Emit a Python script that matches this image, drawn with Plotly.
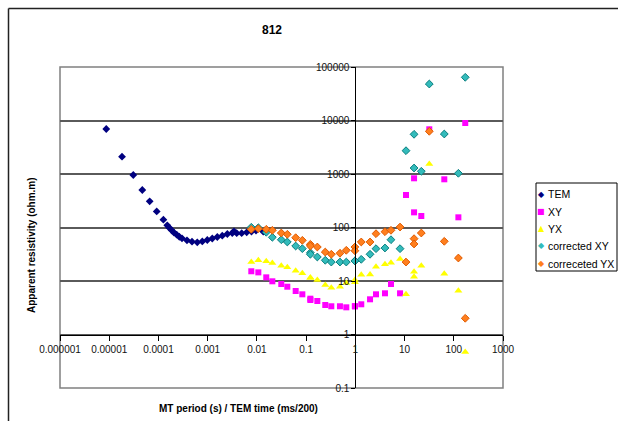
import plotly.graph_objects as go

# ---------------- data ----------------
tem_time = [8.7e-6, 1.82e-5, 3.08e-5, 4.70e-5, 6.64e-5, 9.22e-5, 1.26e-4, 1.51e-4, 1.66e-4,
            1.86e-4, 2.07e-4, 2.35e-4, 2.65e-4, 3.01e-4, 3.80e-4, 4.81e-4, 6.15e-4, 7.78e-4,
            9.83e-4, 1.24e-3, 1.57e-3, 1.98e-3, 2.51e-3, 3.16e-3, 3.43e-3, 3.89e-3, 4.91e-3,
            6.21e-3, 7.77e-3, 9.60e-3, 1.35e-2]
tem_rho = [6930, 2105, 958, 502, 309, 200, 140, 110, 99, 88.6, 80, 73.3, 67.2, 62.8, 57.6,
           54.3, 52.9, 54.9, 58.4, 62.3, 66.4, 70.3, 75.6, 78.9, 85, 78.4, 78.4, 81.3, 84.2,
           87.9, 83.5]

mt_period = [0.0077, 0.0107, 0.0155, 0.0206, 0.0313, 0.0415, 0.0614, 0.0838, 0.122, 0.122,
             0.169, 0.245, 0.325, 0.487, 0.655, 0.98, 0.98, 1.32, 1.99, 2.63, 4.0, 5.3, 8.1,
             10.7, 15.6, 15.6, 21.9, 31.8, 64.2, 124, 171]
xy_rho = [15.2, 14.5, 11.7, 9.87, 8.79, 7.82, 6.50, 5.64, 4.67, 4.41, 4.23, 3.56, 3.37, 3.37,
          3.22, 3.37, 3.37, 3.67, 4.55, 5.64, 5.89, 8.79, 5.89, 405, 831, 192, 164, 6850, 796,
          155, 8980]
yx_rho = [22.6, 24.4, 23.4, 21.7, 19.3, 18.0, 15.6, 13.9, 11.5, 11.5, 10.4, 8.42, 7.50, 7.82,
          9.18, 10.4, 9.46, 13.1, 13.2, 18.5, 20.5, 22.0, 25.8, 5.64, 14.9, 12.0, 19.3, 1538,
          13.7, 6.59, 0.47]
cxy_rho = [101, 99, 81.3, 65.6, 59.1, 53.6, 45.1, 40.2, 33.8, 31.6, 28.1, 24.4, 22.6, 22.6,
           22.6, 23.7, 23.7, 25.4, 31.6, 40.2, 41.4, 59.1, 40.2, 2727, 5520, 1294, 1123, 48100,
           5590, 1031, 64200]
cyx_rho = [92.5, 95, 92.5, 88.7, 78.9, 74.6, 64.5, 57.6, 48.5, 45.1, 43.2, 34.8, 31.6, 33.0,
           37.5, 43.2, 36.8, 53.6, 53.6, 76.6, 83.4, 88.7, 102, 22.6, 61.8, 49.2, 78.9, 6280,
           55.2, 26.9, 2.01]

series_names = ["TEM", "XY", "YX", "corrected XY", "correceted YX"]
series_colors = ["#000080", "#FF00FF", "#FFFF00", "#33BBBB", "#FF7F1E"]
series_glyphs = ["◆", "■", "▲", "◆", "◆"]

x_tick_vals = [1e-6, 1e-5, 1e-4, 1e-3, 1e-2, 1e-1, 1, 10, 100, 1000]
x_tick_text = ["0.000001", "0.00001", "0.0001", "0.001", "0.01", "0.1", "1", "10", "100", "1000"]
y_tick_vals = [0.1, 1, 10, 100, 1000, 10000, 100000]
y_tick_text = ["0.1", "1", "10", "100", "1000", "10000", "100000"]

FONT = "Arial, Liberation Sans, sans-serif"

fig = go.Figure()
fig.add_trace(go.Scatter(x=tem_time, y=tem_rho, mode="markers", name=series_names[0],
                         marker=dict(symbol="diamond", size=6, color=series_colors[0],
                                     line=dict(width=0))))
fig.add_trace(go.Scatter(x=mt_period, y=xy_rho, mode="markers", name=series_names[1],
                         marker=dict(symbol="square", size=6, color=series_colors[1],
                                     line=dict(width=0))))
fig.add_trace(go.Scatter(x=mt_period, y=yx_rho, mode="markers", name=series_names[2],
                         marker=dict(symbol="triangle-up", size=7, color=series_colors[2],
                                     line=dict(width=0))))
fig.add_trace(go.Scatter(x=mt_period, y=cxy_rho, mode="markers", name=series_names[3],
                         marker=dict(symbol="diamond", size=6, color=series_colors[3],
                                     line=dict(width=1, color="#0A7F7F"))))
fig.add_trace(go.Scatter(x=mt_period, y=cyx_rho, mode="markers", name=series_names[4],
                         marker=dict(symbol="diamond", size=6, color=series_colors[4],
                                     line=dict(width=1, color="#E05A00"))))

# page margin removed below, so figure pixels == page pixels
W, H = 618, 421
L, R, T, B = 60, 115, 67, 33
pw, ph = W - L - R, H - T - B


def px(page_x):
    return (page_x - L) / pw


def py(page_y):
    return (H - B - page_y) / ph


shapes = [
    dict(type="rect", xref="paper", yref="paper", x0=0, x1=1, y0=0, y1=1,
         line=dict(color="#808080", width=1.5), layer="below"),
    # outer chart-area border (left and top edges visible)
    dict(type="line", xref="paper", yref="paper", x0=px(8.5), x1=px(8.5),
         y0=py(425), y1=py(8.5), line=dict(color="#222", width=1.5)),
    dict(type="line", xref="paper", yref="paper", x0=px(8.5), x1=px(622),
         y0=py(8.5), y1=py(8.5), line=dict(color="#222", width=1.5)),
    # legend box
    dict(type="rect", xref="paper", yref="paper", x0=px(536), x1=px(617),
         y0=py(271), y1=py(183), line=dict(color="#000", width=1), fillcolor="white"),
]

annotations = [
    dict(text="<b>812</b>", xref="paper", yref="paper", x=px(272), y=py(30),
         xanchor="center", yanchor="middle",
         showarrow=False, font=dict(size=12, family=FONT)),
    dict(text="<b>MT period (s) / TEM time (ms/200)</b>", xref="paper", yref="paper",
         x=px(238), y=py(408), xanchor="center", yanchor="middle",
         showarrow=False, font=dict(size=10, family=FONT)),
    dict(text="<b>Apparent resistivity (ohm.m)</b>", xref="paper", yref="paper",
         x=px(31), y=py(245), xanchor="center", yanchor="middle",
         showarrow=False, textangle=-90, font=dict(size=10, family=FONT)),
]
legend_y = [194, 211.5, 228.5, 246, 263.5]
for name, col, glyph, ly in zip(series_names, series_colors, series_glyphs, legend_y):
    annotations.append(dict(text=glyph, xref="paper", yref="paper", x=px(541), y=py(ly),
                            xanchor="center", yanchor="middle", showarrow=False,
                            font=dict(size=8, family="DejaVu Sans", color=col)))
    annotations.append(dict(text=name, xref="paper", yref="paper", x=px(545.5), y=py(ly),
                            xanchor="left", yanchor="middle", showarrow=False,
                            font=dict(size=10.5, family=FONT, color="#000")))

fig.update_layout(
    width=W, height=H,
    margin=dict(l=L, r=R, t=T, b=B, pad=0, autoexpand=False),
    paper_bgcolor="white", plot_bgcolor="white",
    font=dict(family=FONT, size=10, color="#000"),
    showlegend=False,
    xaxis=dict(type="log", range=[-6, 3], anchor="free", position=py(334.5),
               tickmode="array", tickvals=x_tick_vals, ticktext=x_tick_text,
               showgrid=False, zeroline=False, showline=True, linecolor="#000",
               linewidth=1, ticks="outside", ticklen=5, tickcolor="#000",
               tickfont=dict(size=10, color="#111")),
    yaxis=dict(type="log", range=[-1, 5], anchor="free", position=2 / 3,
               tickmode="array", tickvals=y_tick_vals, ticktext=y_tick_text,
               showgrid=True, gridcolor="#5a5a5a", gridwidth=1.5, zeroline=False,
               showline=True, linecolor="#000", linewidth=1, ticks="outside",
               ticklen=4, tickcolor="#000", tickfont=dict(size=10, color="#111")),
    shapes=shapes,
    annotations=annotations,
)

fig.write_html("out.html", config={"displayModeBar": False},
               post_script="document.body.style.margin='0';document.body.style.overflow='hidden';")
